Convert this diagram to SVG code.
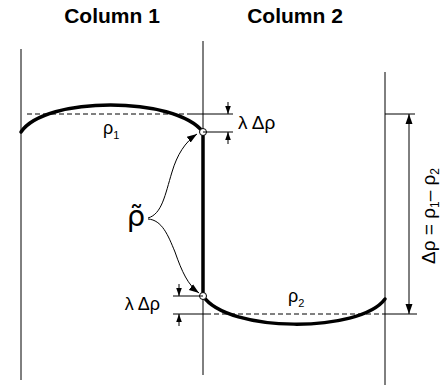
<svg xmlns="http://www.w3.org/2000/svg" width="445" height="385" viewBox="0 0 445 385">
<defs>
<style>
.thin{stroke:#000;stroke-width:1;fill:none}
.thick{stroke:#000;stroke-width:3.5;fill:none;stroke-linecap:round}
.dash{stroke:#000;stroke-width:1;fill:none;stroke-dasharray:5,3}
.lbl{font-family:"Liberation Sans",Arial,sans-serif;fill:#000}
.title{font-family:"Liberation Sans",Arial,sans-serif;font-weight:bold;font-size:21px;fill:#000}
.pt{fill:#fff;stroke:#000;stroke-width:1}
</style>
<marker id="ah" viewBox="0 0 10 10" refX="10" refY="5" markerWidth="10" markerHeight="10" markerUnits="userSpaceOnUse" orient="auto">
<path d="M0,1.5 L10,5 L0,8.5 Z" fill="#000"/>
</marker>
<marker id="ah2" viewBox="0 0 10 10" refX="10" refY="5" markerWidth="8" markerHeight="8" markerUnits="userSpaceOnUse" orient="auto">
<path d="M0,1.5 L10,5 L0,8.5 Z" fill="#000"/>
</marker>
</defs>

<g id="titles">
<text class="title" x="112" y="23" text-anchor="middle">Column 1</text>
<text class="title" x="295" y="23" text-anchor="middle">Column 2</text>
</g>

<g id="walls">
<line class="thin" x1="21" y1="49" x2="21" y2="380"/>
<line class="thin" x1="203" y1="41" x2="203" y2="375"/>
<line class="thin" x1="385" y1="72" x2="385" y2="385"/>
</g>

<g id="column1">
<line class="dash" x1="27" y1="114" x2="190" y2="114"/>
<path class="thick" d="M21,132 C45,96 175,96 203,132"/>
<text class="lbl" x="103" y="134" font-size="18">ρ<tspan font-size="11" dy="5">1</tspan></text>
</g>

<g id="column2">
<line class="dash" x1="206" y1="314" x2="385" y2="314"/>
<path class="thick" d="M203,296 C228,333 360,333 385,299"/>
<text class="lbl" x="288" y="302" font-size="18">ρ<tspan font-size="11" dy="5">2</tspan></text>
</g>

<g id="interface">
<line class="thick" x1="203" y1="132" x2="203" y2="296" stroke-linecap="butt"/>
<circle class="pt" cx="203" cy="132" r="3.5"/>
<circle class="pt" cx="203" cy="296" r="3.5"/>
</g>

<g id="rho-tilde">
<text x="136" y="226" font-size="29" text-anchor="middle" font-family="'DejaVu Sans',sans-serif">ρ̃</text>
</g>

<g id="connectors">
<path class="thin" d="M148,218 C162,214 165,195 172,172 C177,155 185,142 197,134" marker-end="url(#ah)"/>
<path class="thin" d="M148,219 C162,220 168,235 175,252 C182,272 188,285 199,293" marker-end="url(#ah)"/>
</g>

<g id="dim-upper">
<line class="thin" x1="190" y1="114" x2="233" y2="114"/>
<line class="thin" x1="203" y1="132" x2="233" y2="132"/>
<line class="thin" x1="228" y1="102" x2="228" y2="114" marker-end="url(#ah2)"/>
<line class="thin" x1="228" y1="144" x2="228" y2="132" marker-end="url(#ah2)"/>
<text class="lbl" x="238" y="129" font-size="19">λ Δρ</text>
</g>

<g id="dim-lower">
<line class="thin" x1="173" y1="296" x2="203" y2="296"/>
<line class="thin" x1="173" y1="314" x2="206" y2="314"/>
<line class="thin" x1="179" y1="284" x2="179" y2="296" marker-end="url(#ah2)"/>
<line class="thin" x1="179" y1="326" x2="179" y2="314" marker-end="url(#ah2)"/>
<text class="lbl" x="160" y="310" font-size="18" text-anchor="end">λ Δρ</text>
</g>

<g id="dim-right">
<line class="thin" x1="385" y1="114" x2="415" y2="114"/>
<line class="thin" x1="385" y1="314" x2="417" y2="314"/>
<line class="thin" x1="409" y1="200" x2="409" y2="114" marker-end="url(#ah)"/>
<line class="thin" x1="409" y1="200" x2="409" y2="314" marker-end="url(#ah)"/>
<text class="lbl" font-size="19" text-anchor="middle" transform="translate(435,216) rotate(-90)">Δρ = ρ<tspan font-size="12" dy="4">1</tspan><tspan dy="-4">– ρ</tspan><tspan font-size="12" dy="4">2</tspan></text>
</g>
</svg>
